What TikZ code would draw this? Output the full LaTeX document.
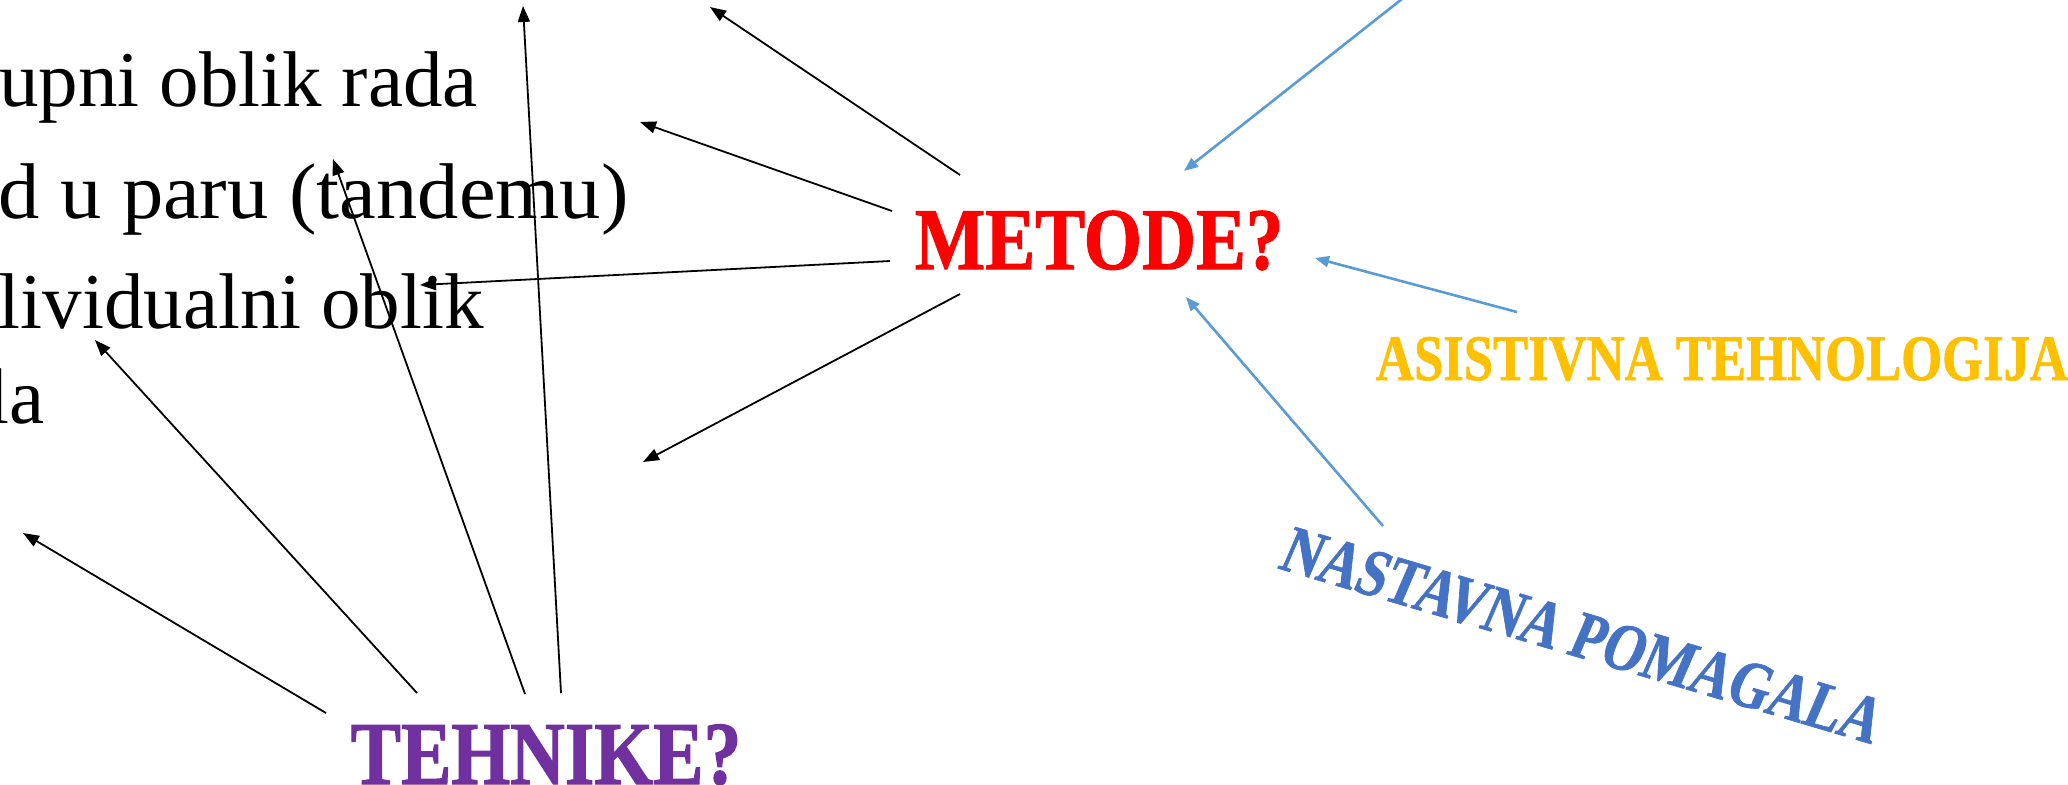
\documentclass[tikz,border=0pt]{standalone}
\usepackage{fontspec}
\setmainfont{Liberation Serif}
\newfontfamily\condM[FakeStretch=0.85,FakeBold=1.2]{Liberation Serif}
\newfontfamily\condT[FakeStretch=0.84,FakeBold=1.2]{Liberation Serif}
\newfontfamily\condA[FakeStretch=0.81,FakeBold=1]{Liberation Serif}
\newfontfamily\condN[FakeStretch=0.79,FakeSlant=0.12,FakeBold=1]{Liberation Serif}
\newfontfamily\wideS[FakeStretch=1.045]{Liberation Serif}
\usetikzlibrary{arrows.meta}
\definecolor{metred}{HTML}{FF0000}
\definecolor{tehpurple}{HTML}{7030A0}
\definecolor{asigold}{HTML}{FFC000}
\definecolor{nasblue}{HTML}{4472C4}
\definecolor{arrblue}{HTML}{5B9BD5}
\tikzset{
  body/.style={inner sep=0pt, anchor=base east, font=\fontsize{39.5pt}{40pt}\selectfont},
  blk/.style={draw=black, line width=0.9pt, -{Triangle[length=8pt,width=6pt]}},
  blu/.style={draw=arrblue, line width=1.3pt, -{Triangle[length=7pt,width=5.5pt]}},
}
\begin{document}
\begin{tikzpicture}[x=0.5pt,y=-0.5pt]
\useasboundingbox (0,0) rectangle (2068,784);
% left texts
\node[body] (l1) at (478,106) {upni oblik rada};
\node[body, font=\wideS\fontsize{39.5pt}{40pt}\selectfont] (l2) at (629,218) {d u paru (tandemu)};
\node[body] (l3) at (484,328) {lividualni oblik};
\node[body] (l4) at (45,423) {la};
% headings
\node[inner sep=0pt, anchor=base, text=metred, font=\condM\bfseries\fontsize{44pt}{45pt}\selectfont] (met) at (1099,269) {METODE?};
\node[inner sep=0pt, anchor=base, text=tehpurple, font=\condT\bfseries\fontsize{45pt}{46pt}\selectfont] (teh) at (546,784) {TEHNIKE?};
\node[inner sep=0pt, anchor=base, text=asigold, font=\condA\bfseries\fontsize{32.5pt}{33pt}\selectfont] (asi) at (1722,380) {ASISTIVNA TEHNOLOGIJA};
\node[inner sep=0pt, anchor=base, rotate=-16.5, text=nasblue, font=\condN\bfseries\fontsize{34pt}{35pt}\selectfont] (nas) at (1574,656) {NASTAVNA POMAGALA};
% coordinates: METODE arrows
\coordinate (ma1) at (960,175); \coordinate (me1) at (710,7);
\coordinate (ma2) at (892,211); \coordinate (me2) at (640,122);
\coordinate (ma3) at (890,261); \coordinate (me3) at (420,285);
\coordinate (ma4) at (960,294); \coordinate (me4) at (643,462);
% blue
\coordinate (bs1) at (1407,-5); \coordinate (be1) at (1184,171);
\coordinate (bs2) at (1517,312); \coordinate (be2) at (1315,258);
\coordinate (bs3) at (1383,526); \coordinate (be3) at (1186,297);
% TEHNIKE arrows
\coordinate (ts1) at (326,713); \coordinate (te1) at (23,533);
\coordinate (ts2) at (417,693); \coordinate (te2) at (95,340);
\coordinate (ts3) at (525,694); \coordinate (te3) at (333,159);
\coordinate (ts4) at (561,693); \coordinate (te4) at (523,6);
\draw[blk] (ma1) -- (me1);
\draw[blk] (ma2) -- (me2);
\draw[blk] (ma3) -- (me3);
\draw[blk] (ma4) -- (me4);
\draw[blu] (bs1) -- (be1);
\draw[blu] (bs2) -- (be2);
\draw[blu] (bs3) -- (be3);
\draw[blk] (ts1) -- (te1);
\draw[blk] (ts2) -- (te2);
\draw[blk] (ts3) -- (te3);
\draw[blk] (ts4) -- (te4);
\end{tikzpicture}
\end{document}
